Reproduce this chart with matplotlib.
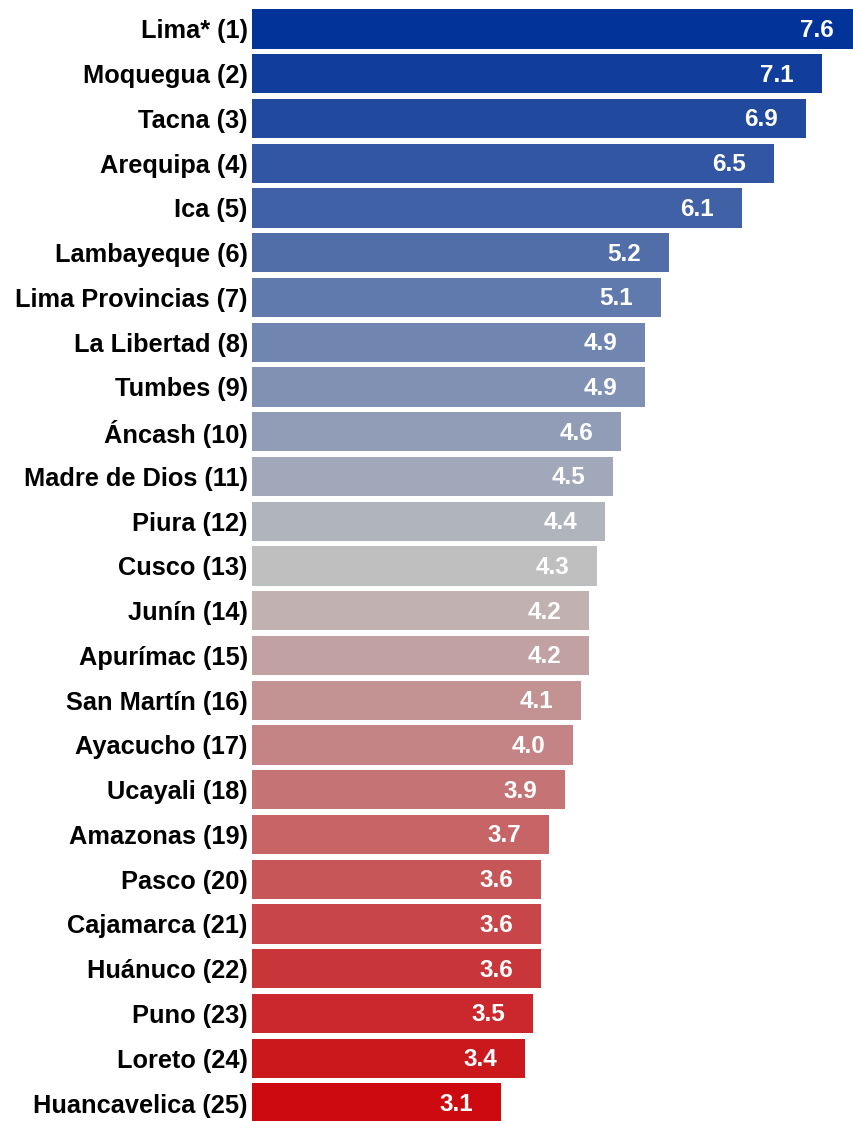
import matplotlib

matplotlib.use("Agg")
import matplotlib.pyplot as plt
import numpy as np
from matplotlib.colors import LinearSegmentedColormap

REGIONS = [
    "Lima* (1)", "Moquegua (2)", "Tacna (3)", "Arequipa (4)", "Ica (5)",
    "Lambayeque (6)", "Lima Provincias (7)", "La Libertad (8)", "Tumbes (9)",
    "Áncash (10)", "Madre de Dios (11)", "Piura (12)", "Cusco (13)",
    "Junín (14)", "Apurímac (15)", "San Martín (16)", "Ayacucho (17)",
    "Ucayali (18)", "Amazonas (19)", "Pasco (20)", "Cajamarca (21)",
    "Huánuco (22)", "Puno (23)", "Loreto (24)", "Huancavelica (25)",
]
VALUES = [7.6, 7.1, 6.9, 6.5, 6.1, 5.2, 5.1, 4.9, 4.9, 4.6, 4.5, 4.4, 4.3,
          4.2, 4.2, 4.1, 4.0, 3.9, 3.7, 3.6, 3.6, 3.6, 3.5, 3.4, 3.1]


def main():
    plt.rcParams["font.family"] = ["Liberation Sans", "DejaVu Sans"]

    fig = plt.figure(figsize=(8.54, 11.21), dpi=100, facecolor="white")
    ax = fig.add_axes([252 / 854, 0.0, 1 - 252 / 854, 1.0])

    n = len(REGIONS)
    cmap = LinearSegmentedColormap.from_list("bluegreyred", ["#023399", "#c0c0c0", "#cc0a0f"])
    colors = [cmap(i / (n - 1)) for i in range(n)]
    ypos = np.arange(n)

    ax.barh(ypos, VALUES, height=0.88, color=colors, edgecolor="none")
    for y, v in zip(ypos, VALUES):
        ax.text(v - 0.35, y + 0.03, f"{v:.1f}", ha="right", va="center", color="white",
                fontsize=17.5, fontweight="bold")

    ax.set_xlim(0, 7.5)
    px_top, px_step = 29, 44.75
    ax.set_ylim((1121 - px_top) / px_step, -px_top / px_step)
    ax.set_yticks(ypos)
    ax.set_yticklabels(REGIONS, fontsize=18.3, fontweight="bold")
    ax.tick_params(axis="y", length=0, pad=3)
    ax.set_xticks([])
    for spine in ax.spines.values():
        spine.set_visible(False)

    fig.savefig("out.png", dpi=100, facecolor="white")
    plt.close(fig)


if __name__ == "__main__":
    main()
